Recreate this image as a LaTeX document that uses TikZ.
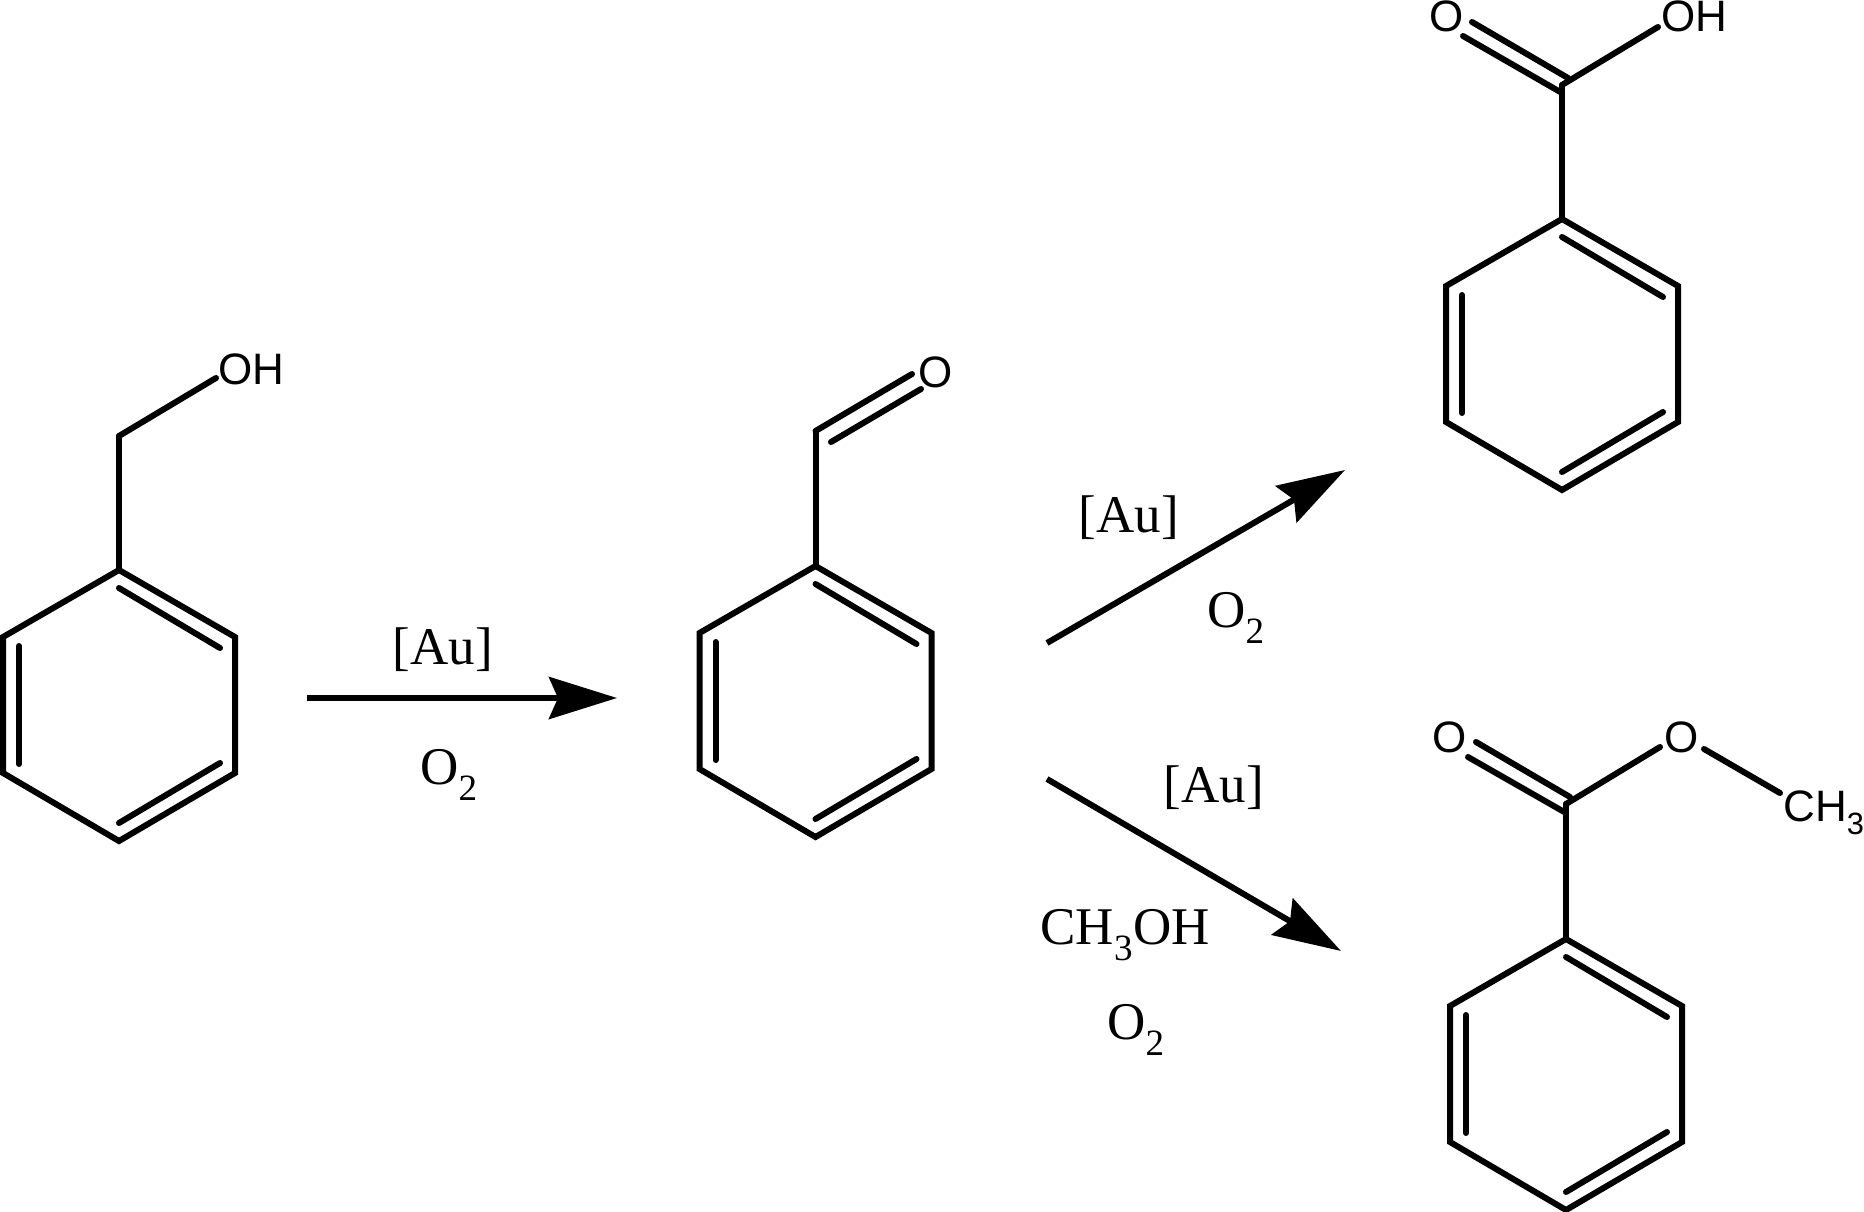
\documentclass[tikz,border=0pt]{standalone}
\usepackage{fontspec}
\setmainfont{Liberation Serif}
\newfontfamily\atomfont{Liberation Sans}
\usepackage{tikz}
\usetikzlibrary{arrows.meta}
\tikzset{
  bond/.style={line width=6pt, line cap=round, line join=miter},
  react/.style={line width=6pt, -{Stealth[length=68pt,width=42pt,inset=9pt]}},
  atom/.style={inner sep=0pt, font=\atomfont\fontsize{44}{44}\selectfont},
  cond/.style={inner sep=0pt, font=\fontsize{53}{53}\selectfont}
}
\newcommand{\benzene}[3]{
\coordinate (#1t) at (#2,#3);
\coordinate (#1ur) at (#2+116,#3+67);
\coordinate (#1lr) at (#2+116,#3+203);
\coordinate (#1b) at (#2,#3+271);
\coordinate (#1ll) at (#2-116,#3+203);
\coordinate (#1ul) at (#2-116,#3+67);
\draw [bond] (#1t) -- (#1ur) -- (#1lr) -- (#1b) -- (#1ll) -- (#1ul) -- cycle;
\draw [bond] (#2,#3+18) -- (#2+101,#3+78);
\draw [bond] (#2+101,#3+193) -- (#2,#3+253);
\draw [bond] (#2-100,#3+76) -- (#2-100,#3+194);
}
\begin{document}
\begin{tikzpicture}[x=1pt,y=-1pt]
\useasboundingbox (0,0) rectangle (1864,1212);
\benzene{a}{119}{570}
\benzene{b}{815.5}{566}
\benzene{c}{1562}{219}
\benzene{d}{1566}{939}
% benzyl alcohol
\coordinate (ach) at (119,436);
\coordinate (aoh) at (216,378);
\node [atom] (oh1) at (251,369) {OH};
\path [bond] (at) edge (ach);
\path [bond] (ach) edge (aoh);
% benzaldehyde
\coordinate (bch) at (815.5,431);
\coordinate (bo1) at (912,374);
\coordinate (bc2) at (831,442);
\coordinate (bo2) at (921,389);
\node [atom] (o1) at (936,372) {O};
\path [bond] (bt) edge (bch);
\path [bond] (bch) edge (bo1);
\path [bond] (bc2) edge (bo2);
% benzoic acid
\coordinate (cco) at (1562,85);
\coordinate (cc2) at (1568,78);
\coordinate (co1) at (1472,22);
\coordinate (cc3) at (1562,93);
\coordinate (co2) at (1463,36);
\coordinate (coh) at (1658,27);
\node [atom] (o2) at (1447,16) {O};
\node [atom] (oh2) at (1694,16) {OH};
\path [bond] (ct) edge (cco);
\path [bond] (cco) edge (coh);
\path [bond] (cc2) edge (co1);
\path [bond] (cc3) edge (co2);
% methyl benzoate
\coordinate (dco) at (1566,804);
\coordinate (dc2) at (1570,797);
\coordinate (do1) at (1476,742);
\coordinate (dc3) at (1566,813);
\coordinate (do2) at (1468,757);
\coordinate (doe) at (1660,747);
\coordinate (dom) at (1704,749);
\coordinate (dme) at (1780,793);
\node [atom] (o3) at (1450,737) {O};
\node [atom] (o4) at (1682,737) {O};
\node [atom] (ch3) at (1824,813) {CH\textsubscript{3}};
\path [bond] (dt) edge (dco);
\path [bond] (dco) edge (doe);
\path [bond] (dc2) edge (do1);
\path [bond] (dc3) edge (do2);
\path [bond] (dom) edge (dme);
% arrows
\coordinate (r1s) at (307,698);
\coordinate (r1e) at (617,698);
\coordinate (r2s) at (1047,643);
\coordinate (r2e) at (1345,470);
\coordinate (r3s) at (1047,779);
\coordinate (r3e) at (1341,951);
\draw [react] (r1s) -- (r1e);
\draw [react] (r2s) -- (r2e);
\draw [react] (r3s) -- (r3e);
\node [cond] (au1) at (443,650) {[Au]};
\node [cond] (ox1) at (449,775) {O\textsubscript{2}};
\node [cond] (au2) at (1129,518) {[Au]};
\node [cond] (ox2) at (1236,618) {O\textsubscript{2}};
\node [cond] (au3) at (1214,788) {[Au]};
\node [cond] (me) at (1125,935) {CH\textsubscript{3}OH};
\node [cond] (ox3) at (1136,1030) {O\textsubscript{2}};
\end{tikzpicture}
\end{document}
